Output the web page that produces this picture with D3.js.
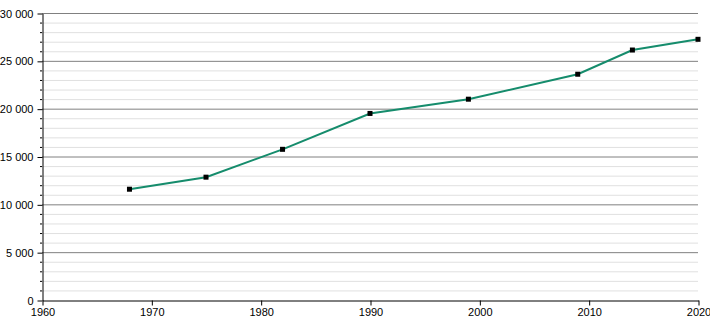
<!DOCTYPE html>
<html><head><meta charset="utf-8">
<script src="https://cdn.jsdelivr.net/npm/d3@7"></script>
<style>body{margin:0;background:#fff}svg{display:block}text{font-family:"Liberation Sans",Arial,sans-serif;font-size:11px;fill:#000}</style>
</head><body><svg id="c" width="710" height="320"></svg>
<script>
const years = [1968, 1975, 1982, 1990, 1999, 2009, 2014, 2020];
const population = [11580, 12840, 15750, 19500, 20990, 23600, 26130, 27250];
const xTicks = [1960, 1970, 1980, 1990, 2000, 2010, 2020];
const yTicks = [0, 5000, 10000, 15000, 20000, 25000, 30000];

const svg = d3.select("#c");
const x = d3.scaleLinear().domain([1960, 2020]).range([42, 698]);
const y = d3.scaleLinear().domain([0, 30000]).range([300, 13]);
const fmt = v => d3.format(",")(v).replace(/,/g, " ");

const minor = d3.range(0, 30001, 1000).filter(v => v % 5000 !== 0);
svg.append("g").selectAll("line").data(minor).join("line")
  .attr("x1", x(1960)).attr("x2", x(2020))
  .attr("y1", d => y(d) + 0.5).attr("y2", d => y(d) + 0.5)
  .attr("stroke", "#e0e0e0").attr("stroke-width", 1);
svg.append("g").selectAll("line").data(yTicks.filter(v => v > 0)).join("line")
  .attr("x1", x(1960)).attr("x2", x(2020))
  .attr("y1", d => y(d) + 0.5).attr("y2", d => y(d) + 0.5)
  .attr("stroke", "#808080").attr("stroke-width", 1);

// y axis
const ya = svg.append("g").attr("transform", "translate(" + (x(1960) + 0.5) + ",0.5)")
  .call(d3.axisLeft(y).tickValues(yTicks).tickFormat(fmt).tickSize(5).tickSizeOuter(0).tickPadding(4));
ya.select(".domain").attr("stroke", "#000");
ya.selectAll("text").style("font-family", '"Liberation Sans",Arial,sans-serif').style("font-size", "11px");
svg.append("g").selectAll("line").data(minor).join("line")
  .attr("x1", x(1960) - 2).attr("x2", x(1960))
  .attr("y1", d => y(d) + 0.5).attr("y2", d => y(d) + 0.5)
  .attr("stroke", "#000");

// x axis
const xa = svg.append("g").attr("transform", "translate(0.5," + (y(0) + 0.5) + ")")
  .call(d3.axisBottom(x).tickValues(xTicks).tickFormat(d3.format("d")).tickSize(5).tickSizeOuter(0).tickPadding(3));
xa.select(".domain").attr("stroke", "#000");
xa.selectAll("text").style("font-family", '"Liberation Sans",Arial,sans-serif').style("font-size", "11px");

const data = years.map((yr, i) => ({yr, v: population[i]}));
svg.append("path").datum(data)
  .attr("fill", "none").attr("stroke", "#158c6c").attr("stroke-width", 2)
  .attr("d", d3.line().x(d => x(d.yr)).y(d => y(d.v)));
svg.append("g").selectAll("rect").data(data).join("rect")
  .attr("x", d => x(d.yr) - 2.5).attr("y", d => y(d.v) - 2.5)
  .attr("width", 5).attr("height", 5).attr("fill", "#000");
</script></body></html>
